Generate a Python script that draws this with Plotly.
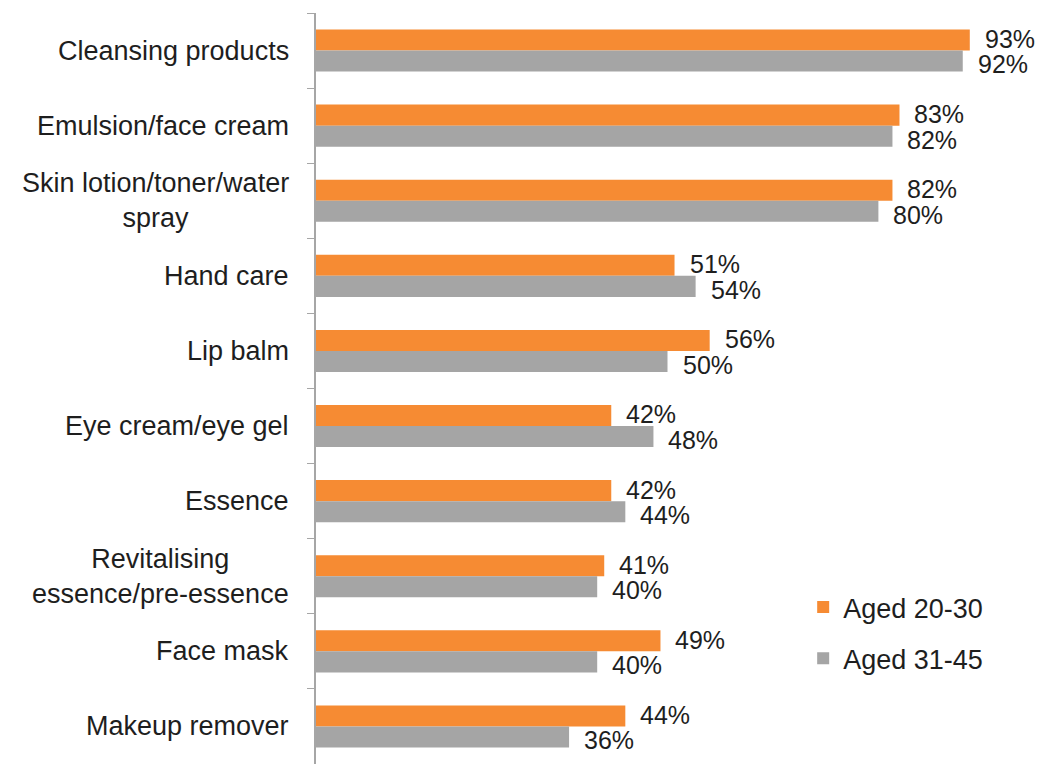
import plotly.graph_objects as go

# Skincare product usage by age group (share of respondents, %)
categories = [
    "Cleansing products",
    "Emulsion/face cream",
    "Skin lotion/toner/water<br>spray",
    "Hand care",
    "Lip balm",
    "Eye cream/eye gel",
    "Essence",
    "Revitalising<br>essence/pre-essence",
    "Face mask",
    "Makeup remover",
]
aged_20_30 = [93, 83, 82, 51, 56, 42, 42, 41, 49, 44]
aged_31_45 = [92, 82, 80, 54, 50, 48, 44, 40, 40, 36]
series_names = ["Aged 20-30", "Aged 31-45"]

ORANGE = "#F68B33"
GREY = "#A5A5A5"
FONT = "Arial, Liberation Sans, sans-serif"
TEXT = "#1E1E1E"

BARGAP = 0.44

fig = go.Figure()
for i, (name, vals, col) in enumerate(zip(series_names, [aged_20_30, aged_31_45], [ORANGE, GREY])):
    fig.add_trace(go.Bar(
        y=categories, x=vals, name=name, orientation="h",
        marker=dict(color=col, line=dict(width=0)),
        legendgroup=f"g{i}",
        offsetgroup=str(i),
        hoverinfo="skip",
    ))

annotations = []
# value labels just past the end of each bar, spread slightly apart vertically
n = len(categories)
for vals, off in [(aged_20_30, -0.155), (aged_31_45, 0.185)]:
    for k, v in enumerate(vals):
        annotations.append(dict(
            x=v, y=k + off, xref="x", yref="y",
            text=f"{v}%", showarrow=False, borderpad=0,
            xanchor="left", yanchor="middle", xshift=14,
            font=dict(family=FONT, size=25, color=TEXT),
        ))

# category labels, centred line by line and right-aligned to the axis
for k, c in enumerate(categories):
    annotations.append(dict(
        x=0, y=k, xref="paper", yref="y",
        text=c, showarrow=False, align="center",
        xanchor="right", yanchor="middle", xshift=-25,
        font=dict(family=FONT, size=27, color=TEXT),
    ))

fig.update_layout(
    width=1042, height=764,
    margin=dict(l=316, r=23, t=13, b=0),
    paper_bgcolor="white", plot_bgcolor="white",
    barmode="group", bargap=BARGAP, bargroupgap=0,
    font=dict(family=FONT, size=27, color=TEXT),
    annotations=annotations,
    showlegend=True,
    legend=dict(
        x=0.693, y=0.241, xanchor="left", yanchor="top",
        traceorder="grouped", tracegroupgap=13,
        itemwidth=30,
        font=dict(family=FONT, size=27, color=TEXT),
        bgcolor="rgba(0,0,0,0)",
    ),
    xaxis=dict(
        range=[0, 100], visible=False, fixedrange=True,
    ),
    yaxis=dict(
        type="category", categoryorder="array", categoryarray=categories,
        range=[n - 0.5, -0.5],
        showticklabels=False, showgrid=False, zeroline=False,
        showline=True, linecolor="#A6A6A6", linewidth=2,
        ticks="outside", tickson="boundaries", ticklen=7,
        tickcolor="#A6A6A6", tickwidth=1,
        fixedrange=True,
    ),
)

fig.write_html("out.html")
